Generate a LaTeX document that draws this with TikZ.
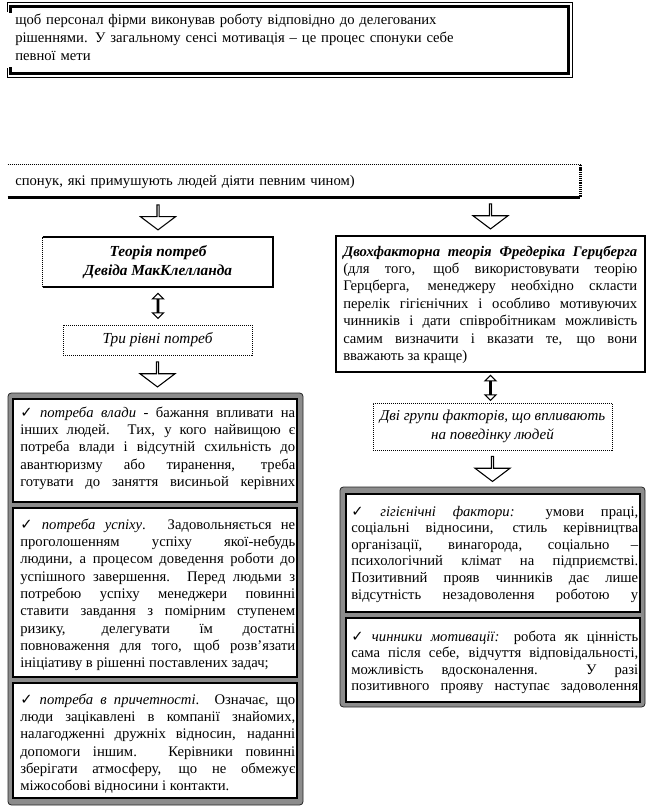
\documentclass[tikz,border=0pt]{standalone}
\usepackage{fontspec}
\setmainfont{Liberation Serif}
\newfontfamily\symfont{DejaVu Sans}
\usetikzlibrary{shapes.arrows,calc}
\newcommand{\chkmk}{{\symfont\char"2713}}
\hyphenpenalty=10000
\exhyphenpenalty=10000
\hbadness=10000
\begin{document}
\begin{tikzpicture}[x=0.75pt,y=-0.75pt,
  txt/.style={inner sep=0pt, font=\fontsize{11}{13}\selectfont, align=justify, anchor=base west},
  dotline/.style={draw=black, line width=0.75pt, dash pattern=on 0.75pt off 0.75pt},
  dotbox/.style={dotline, fill=white, inner sep=0pt, align=center, font=\fontsize{11.3}{14}\selectfont\itshape},
  blockarrow/.style={shape=single arrow, draw=black, line width=0.8pt, fill=white, rotate=-90,
     minimum height=18.75pt, minimum width=26.25pt, single arrow head extend=6.375pt,
     single arrow tip angle=106, inner sep=0pt},
  dblarrow/.style={shape=double arrow, draw=black, line width=0.8pt, fill=white, rotate=90,
     minimum height=18.75pt, minimum width=8.25pt, double arrow head extend=2.625pt, inner sep=0pt},
  frame/.style={fill=black!45, draw=black!85, line width=0.6pt, rounded corners=2.5pt, inner sep=0pt},
  inbox/.style={draw=black, fill=white, line width=1.1pt, inner sep=0pt},
]
\useasboundingbox (0,0) rectangle (647,810);
\fill[white] (0,0) rectangle (647,810);

% top box
\node[inner sep=0pt, minimum width=423pt, minimum height=55.5pt] (topbox) at (290,40) {};
\draw[line width=0.75pt] ([yshift=-7pt]topbox.north west) -- (topbox.north west) -- (topbox.north east) -- (topbox.south east) -- (topbox.south west) -- ([yshift=7pt]topbox.south west);
\draw[line width=2pt] ([shift={(2.25pt,-7.5pt)}]topbox.north west) -- ([shift={(2.25pt,-3pt)}]topbox.north west) -- ([shift={(-3pt,-3pt)}]topbox.north east) -- ([shift={(-3pt,3pt)}]topbox.south east) -- ([shift={(2.25pt,3pt)}]topbox.south west) -- ([shift={(2.25pt,7.5pt)}]topbox.south west);
\node[txt, align=left, text width=420pt, font=\fontsize{11}{13.5}\selectfont] (topt) at (15,24)
 {щоб персонал фірми виконував  роботу відповідно  до делегованих\\
  рішеннями.  У загальному сенсі мотивація – це процес спонуки  себе\\
  певної  мети};

% strip
\node[inner sep=0pt, minimum width=429pt, minimum height=24pt] (strip) at (294,181) {};
\draw[dotline] (strip.north west) -- (strip.north east);
\draw[line width=2.2pt, dash pattern=on 0.8pt off 0.6pt] (strip.north east) -- (strip.south east);
\draw[line width=2.4pt] (strip.south west) -- (strip.south east);
\node[txt, text width=420pt, align=left] (stript) at (15,185) {спонук,  які примушують  людей діяти певним  чином)};

% left title
\node[inner sep=0pt, minimum width=172.5pt, minimum height=37.5pt, align=center,
      font=\fontsize{11.5}{14}\selectfont\bfseries\itshape] (lt) at (158,262)
      {Теорія потреб\\Девіда МакКлелланда};
\draw[line width=1.6pt] (lt.north west) -- (lt.north east) -- (lt.south east) -- (lt.south west);
\draw[dotline] (lt.south west) -- (lt.north west);

% three levels
\node[dotbox, minimum width=141.75pt, minimum height=22.5pt, font=\fontsize{11.5}{14}\selectfont\itshape] (three) at (157.5,340) {Три рівні потреб};

% right title
\node[draw=black, line width=1.8pt, inner sep=0pt, minimum width=231.75pt, minimum height=102pt] (rt) at (490.5,304) {};
\node[txt, text width=220.5pt, font=\fontsize{11}{13.1}\selectfont] (rtt) at (343,256)
 {\textbf{\textit{Двохфакторна теорія Фредеріка Герцберга}}\linebreak
  (для того, щоб використовувати теорію\linebreak
  Герцберга, менеджеру необхідно скласти\linebreak
  перелік гігієнічних і особливо мотивуючих\linebreak
  чинників і дати співробітникам можливість\linebreak
  самим визначити і вказати те, що вони\linebreak
  вважають за краще)};

% two groups
\node[dotbox, minimum width=179.25pt, minimum height=35.25pt] (two) at (492.5,426.5)
 {Дві групи факторів, що впливають\\на поведінку людей};

% left frame
\node[frame, minimum width=221.25pt, minimum height=309pt] (L) at (155.5,599) {};
\node[inbox, minimum width=213pt, minimum height=77.25pt] (L1) at (155,450.5) {};
\node[inbox, minimum width=213pt, minimum height=126.75pt] (L2) at (155,592.5) {};
\node[inbox, minimum width=213pt, minimum height=86.25pt] (L3) at (155,740.5) {};

\node[txt, text width=206.25pt] (L1t) at (20,417)
 {\chkmk{} \textit{потреба влади} - бажання впливати на\linebreak
  інших людей. Тих, у кого найвищою є\linebreak
  потреба влади і відсутній схильність до\linebreak
  авантюризму або тиранення, треба\linebreak
  готувати до заняття висиньой керівних\linebreak};
\node[txt, text width=206.25pt] (L2t) at (20,529)
 {\chkmk{} \textit{потреба успіху}. Задовольняється не\linebreak
  проголошенням успіху якої-небудь\linebreak
  людини, а процесом доведення роботи до\linebreak
  успішного завершення. Перед людьми з\linebreak
  потребою успіху менеджери повинні\linebreak
  ставити завдання з помірним ступенем\linebreak
  ризику, делегувати їм достатні\linebreak
  повноваження для того, щоб розв'язати\linebreak
  ініціативу  в рішенні поставлених задач;};
\node[txt, text width=206.25pt] (L3t) at (20,704)
 {\chkmk{} \textit{потреба в причетності}. Означає, що\linebreak
  люди зацікавлені в компанії знайомих,\linebreak
  налагодженні дружніх відносин, наданні\linebreak
  допомоги іншим. Керівники повинні\linebreak
  зберігати атмосферу, що не обмежує\linebreak
  міжособові відносини  і контакти.};

% right frame
\node[frame, minimum width=228.75pt, minimum height=165pt] (R) at (492.5,597) {};
\node[inbox, minimum width=220.5pt, minimum height=88.5pt] (RA) at (493,553) {};
\node[inbox, minimum width=220.5pt, minimum height=63pt] (RB) at (493,660) {};

\node[txt, text width=215.25pt, font=\fontsize{11}{12.45}\selectfont] (RAt) at (351,516)
 {\chkmk{} \textit{гігієнічні фактори:} умови праці,\linebreak
  соціальні відносини, стиль керівництва\linebreak
  організації, винагорода, соціально –\linebreak
  психологічний клімат на підприємстві.\linebreak
  Позитивний прояв чинників дає лише\linebreak
  відсутність незадоволення роботою у\linebreak};
\node[txt, text width=215.25pt, font=\fontsize{11}{12.45}\selectfont] (RBt) at (351,641)
 {\chkmk{} \textit{чинники мотивації:} робота як цінність\linebreak
  сама після себе, відчуття відповідальності,\linebreak
  можливість вдосконалення. У разі\linebreak
  позитивного прояву наступає задоволення\linebreak};

% arrows
\node[blockarrow] (a1) at ($(lt.north |- strip.south)!0.5!(lt.north)$) {};
\node[blockarrow] (a2) at ($(rt.north |- strip.south)!0.5!(rt.north)$) {};
\node[dblarrow] (d1) at ($(lt.south)!0.5!(lt.south |- three.north)$) {};
\node[blockarrow] (a3) at ($(three.south)!0.5!(three.south |- L.north)$) {};
\node[dblarrow] (d2) at ($(rt.south)!0.5!(rt.south |- two.north)$) {};
\node[blockarrow] (a4) at ($(two.south)!0.5!(two.south |- R.north)$) {};
\end{tikzpicture}
\end{document}
